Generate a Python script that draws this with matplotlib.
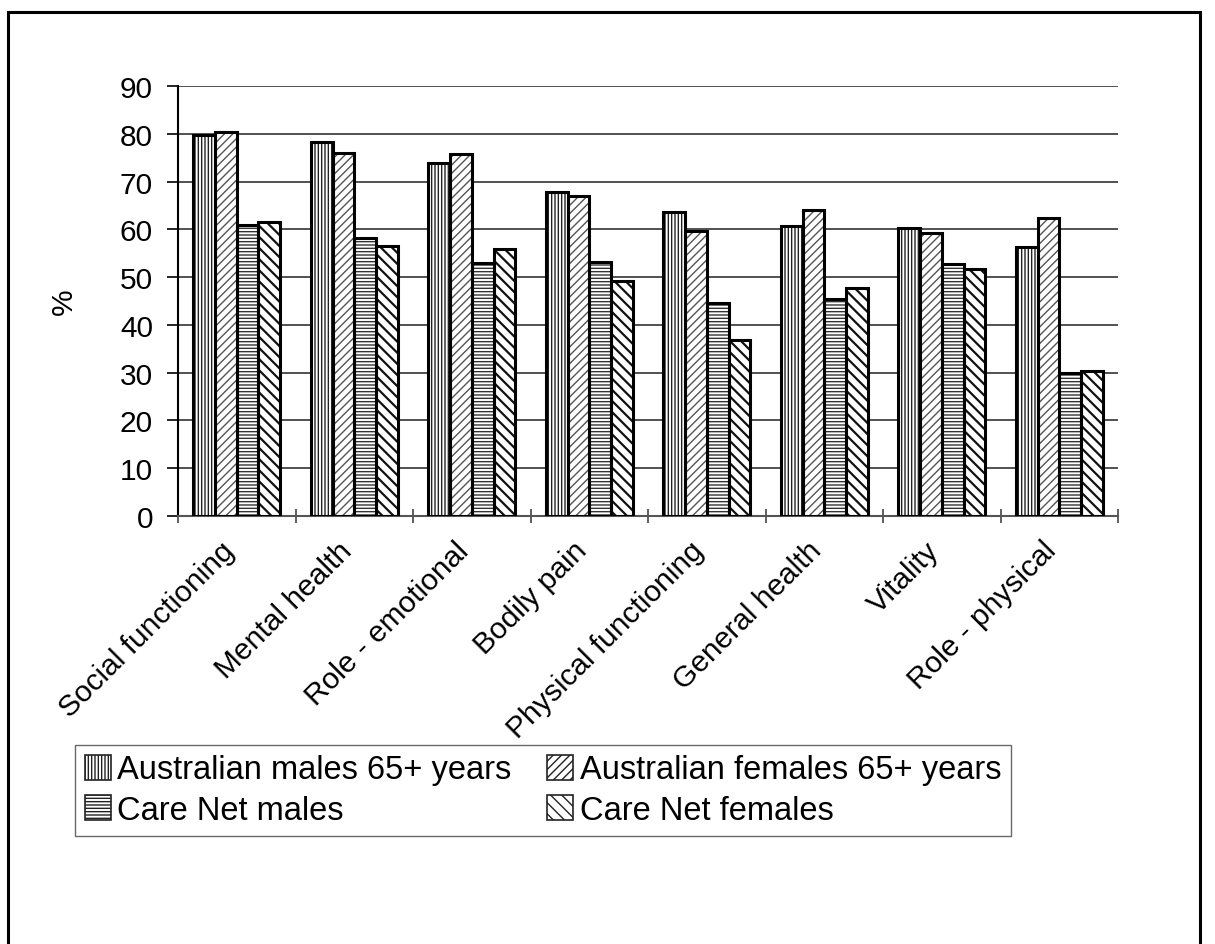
import numpy as np
import matplotlib
matplotlib.use('Agg')
import matplotlib.pyplot as plt
import matplotlib.transforms as mtransforms
from matplotlib.patches import Patch, Rectangle

plt.rcParams['font.family'] = ['Liberation Sans', 'DejaVu Sans']
plt.rcParams['hatch.linewidth'] = 1.0

categories = ['Social functioning', 'Mental health', 'Role - emotional', 'Bodily pain',
              'Physical functioning', 'General health', 'Vitality', 'Role - physical']
aus_males = [79.7, 78.3, 73.8, 67.9, 63.7, 60.6, 60.2, 56.3]
aus_females = [80.4, 76.0, 75.7, 67.0, 59.7, 64.1, 59.3, 62.3]
cn_males = [60.9, 58.1, 52.9, 53.1, 44.6, 45.4, 52.8, 30.0]
cn_females = [61.6, 56.5, 55.8, 49.1, 36.8, 47.8, 51.7, 30.3]

series = [
    ('Australian males 65+ years', aus_males, '|||||', '#222222', 1.0),
    ('Australian females 65+ years', aus_females, '////', '#555555', 1.0),
    ('Care Net males', cn_males, '-----', '#333333', 1.0),
    ('Care Net females', cn_females, '\\\\\\', '#111111', 1.6),
]

fig = plt.figure(figsize=(12.15, 9.45), dpi=100)
ax = fig.add_axes([0.1465, 0.4529, 0.7737, 0.4550])

x = np.arange(len(categories))
w = 0.185
handles = []
for i, (name, vals, hatch, hc, hlw) in enumerate(series):
    plt.rcParams['hatch.linewidth'] = hlw
    pos = x + (i - 1.5) * w
    # hatch first, then a black outline on top
    ax.bar(pos, vals, w, color='white', edgecolor=hc, hatch=hatch, linewidth=0, zorder=2)
    ax.bar(pos, vals, w, fill=False, edgecolor='black', linewidth=2.2, zorder=3)
    handles.append(Patch(facecolor='white', edgecolor='#222222', hatch=hatch, linewidth=1.2, label=name))
plt.rcParams['hatch.linewidth'] = 1.0

ax.set_xlim(-0.5, len(categories) - 0.5)
ax.set_ylim(0, 90)
ax.set_yticks(range(0, 91, 10))
ax.yaxis.grid(True, color='#333333', linewidth=1.2)
ax.set_axisbelow(True)

ax.set_xticks(x)
ax.set_xticklabels(categories, rotation=45, ha='right', rotation_mode='anchor', fontsize=21.5)
ax.tick_params(axis='x', length=0, pad=10)
shift = mtransforms.ScaledTranslation(-0.17, -0.06, fig.dpi_scale_trans)
for lab in ax.get_xticklabels():
    lab.set_transform(lab.get_transform() + shift)
ax.set_xticks(np.arange(-0.5, len(categories)), minor=True)
ax.tick_params(axis='x', which='minor', length=10, width=1.2, color='#444444', direction='inout')
ax.tick_params(axis='y', labelsize=21.5, length=8, width=1.2, pad=10)

for s in ('top', 'right'):
    ax.spines[s].set_visible(False)
ax.spines['left'].set_linewidth(1.5)
ax.spines['bottom'].set_linewidth(1.5)
ax.spines['bottom'].set_color('#555555')

ax.set_ylabel('%', fontsize=21.5, labelpad=30)

# row-major order: males/females on the first row, Care Net on the second
order = [handles[0], handles[2], handles[1], handles[3]]
leg = fig.legend(handles=order, ncol=2, loc='lower left',
                 bbox_to_anchor=(0.0617, 0.1143, 0.7706, 0.1005), mode='expand',
                 fontsize=23.5, frameon=True, fancybox=False, edgecolor='#444444',
                 handlelength=0.8, handleheight=0.8, handletextpad=0.2,
                 borderpad=0.3, labelspacing=0.3, columnspacing=1.0, borderaxespad=0)
leg.get_frame().set_linewidth(1.0)

# outer frame around the chart
fig.patches.append(Rectangle((8 / 1215, -0.05), 1192 / 1215, 1.05 - 13 / 945,
                             transform=fig.transFigure, fill=False,
                             edgecolor='black', linewidth=2.2))

fig.savefig('out.png', dpi=100)
